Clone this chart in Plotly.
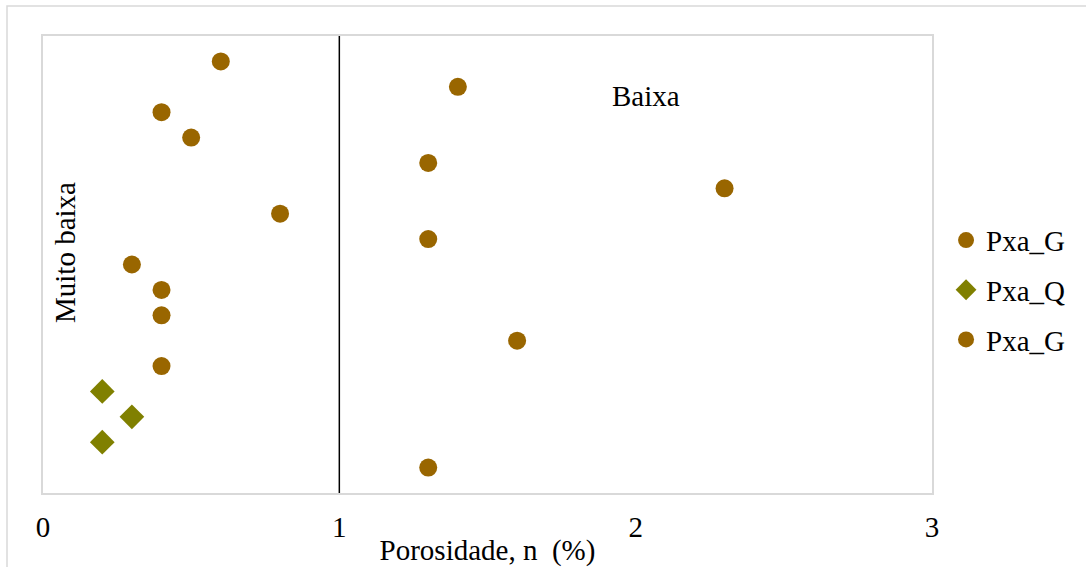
import plotly.graph_objects as go

# Data
g1_x = [0.6, 0.4, 0.5, 0.8, 0.3, 0.4, 0.4, 0.4]
g1_y = [17, 15, 14, 11, 9, 8, 7, 5]
q_x = [0.2, 0.3, 0.2]
q_y = [4, 3, 2]
g2_x = [1.4, 1.3, 2.3, 1.3, 1.6, 1.3]
g2_y = [16, 13, 12, 10, 6, 1]
series_names = ["Pxa_G", "Pxa_Q", "Pxa_G"]
x_ticks = [0, 1, 2, 3]
x_title = "Porosidade, n  (%)"
limit_x = 1
label_low = "Muito baixa"
label_mid = "Baixa"

FONT = "Liberation Serif, Times New Roman, serif"
BROWN = "#996600"
OLIVE = "#808000"

fig = go.Figure()
fig.add_trace(go.Scatter(x=g1_x, y=g1_y, mode="markers", name=series_names[0],
                         legendgroup="a",
                         marker=dict(symbol="circle", size=18, color=BROWN)))
fig.add_trace(go.Scatter(x=q_x, y=q_y, mode="markers", name=series_names[1],
                         legendgroup="b",
                         marker=dict(symbol="diamond", size=19, color=OLIVE)))
fig.add_trace(go.Scatter(x=g2_x, y=g2_y, mode="markers", name=series_names[2],
                         legendgroup="c",
                         marker=dict(symbol="circle", size=18, color=BROWN)))

fig.add_shape(type="line", xref="x", yref="paper", x0=limit_x, x1=limit_x, y0=0, y1=1,
              line=dict(color="black", width=1.5))
# outer chart border
fig.add_shape(type="rect", xref="paper", yref="paper", x0=-0.0405, x1=1.3, y0=-0.3, y1=1.0656,
              line=dict(color="#d9d9d9", width=1.5), layer="below")

fig.add_annotation(x=0.074, y=9.49, xref="x", yref="y", text=label_low, showarrow=False,
                   textangle=-90, font=dict(family=FONT, size=29, color="black"))
fig.add_annotation(x=2.035, y=15.63, xref="x", yref="y", text=label_mid, showarrow=False,
                   font=dict(family=FONT, size=29, color="black"))

fig.update_layout(
    width=1086, height=567,
    margin=dict(l=43, r=154, t=36, b=74),
    paper_bgcolor="white", plot_bgcolor="white",
    font=dict(family=FONT, size=29, color="black"),
    showlegend=True,
    legend=dict(x=1.0158, y=0.609, xanchor="left", yanchor="top",
                font=dict(family=FONT, size=29, color="black"),
                tracegroupgap=9, traceorder="grouped",
                bgcolor="rgba(0,0,0,0)"),
    xaxis=dict(range=[0, 3], tickvals=x_ticks, showgrid=False, zeroline=False,
               showline=True, mirror=True, linecolor="#d9d9d9", linewidth=1.5,
               ticks="", ticklabelstandoff=7, automargin=False,
               title=dict(text=x_title, standoff=0, font=dict(family=FONT, size=29))),
    yaxis=dict(range=[0, 18], showticklabels=False, showgrid=False, zeroline=False,
               automargin=False,
               showline=True, mirror=True, linecolor="#d9d9d9", linewidth=1.5, ticks=""),
)

fig.write_html("out.html", config={"displayModeBar": False},
               post_script="document.body.style.margin='0';")
